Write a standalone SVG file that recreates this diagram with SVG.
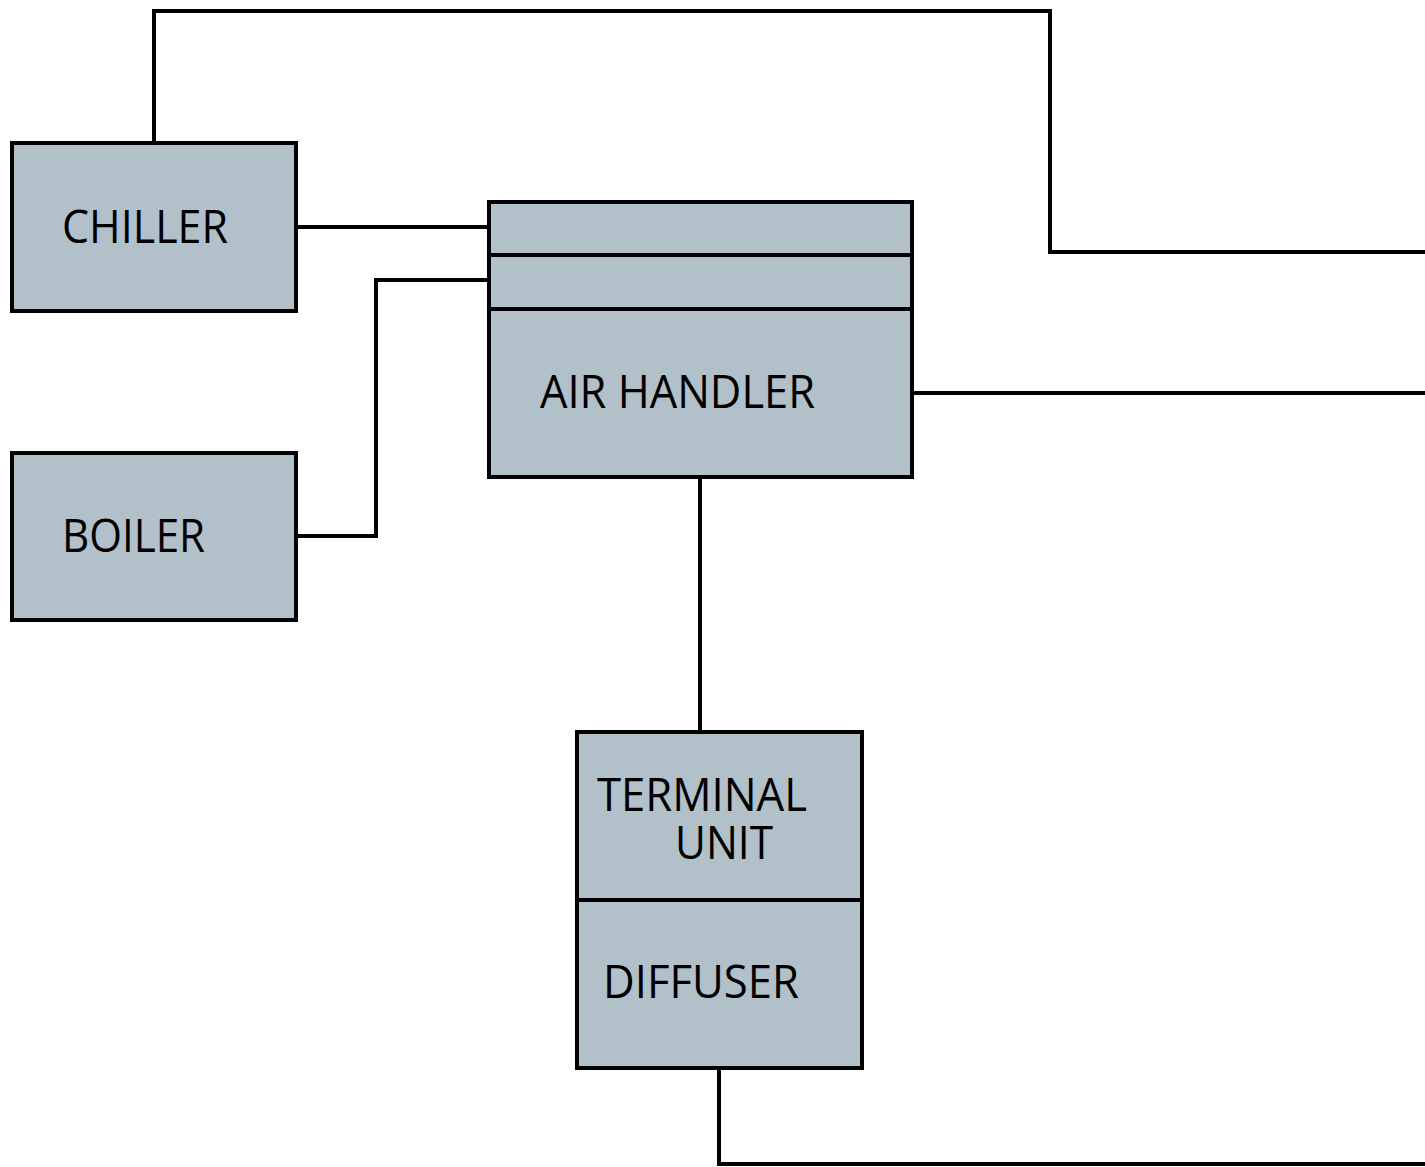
<svg xmlns="http://www.w3.org/2000/svg" width="1425" height="1167" viewBox="0 0 1425 1167">
<style>
.box{fill:#b2c0ca;stroke:#000;stroke-width:4;stroke-linejoin:miter}
.div{stroke:#000;stroke-width:4;fill:none}
.lbl{font-family:"Open Sans","Noto Sans","Liberation Sans",sans-serif;font-size:46px;fill:#000}
.wire{stroke:#000;stroke-width:4;fill:none;stroke-linejoin:miter}
</style>
<rect width="1425" height="1167" fill="#fff"/>
<g id="connectors">
<polyline class="wire" points="154,143 154,11 1050,11 1050,252 1425,252"/>
<line class="wire" x1="296" y1="227" x2="488" y2="227"/>
<polyline class="wire" points="296,536 376,536 376,280 488,280"/>
<line class="wire" x1="912" y1="393" x2="1425" y2="393"/>
<line class="wire" x1="700" y1="478" x2="700" y2="732"/>
<polyline class="wire" points="719,1068 719,1164 1425,1164"/>
</g>
<g id="chiller">
<rect class="box" x="12" y="143" width="284" height="168"/>
<text class="lbl" x="62" y="243" textLength="166" lengthAdjust="spacingAndGlyphs">CHILLER</text>
</g>
<g id="boiler">
<rect class="box" x="12" y="453" width="284" height="167"/>
<text class="lbl" x="62" y="552" textLength="143" lengthAdjust="spacingAndGlyphs">BOILER</text>
</g>
<g id="air-handler">
<rect class="box" x="489" y="202" width="423" height="275"/>
<line class="div" x1="489" y1="255" x2="912" y2="255"/>
<line class="div" x1="489" y1="309" x2="912" y2="309"/>
<text class="lbl" x="540" y="408" textLength="275" lengthAdjust="spacingAndGlyphs">AIR HANDLER</text>
</g>
<g id="terminal-unit">
<rect class="box" x="577" y="732" width="285" height="336"/>
<line class="div" x1="577" y1="900" x2="862" y2="900"/>
<text class="lbl" x="597" y="811" textLength="210" lengthAdjust="spacingAndGlyphs">TERMINAL</text>
<text class="lbl" x="675" y="859" textLength="98" lengthAdjust="spacingAndGlyphs">UNIT</text>
<text class="lbl" x="603" y="998" textLength="196" lengthAdjust="spacingAndGlyphs">DIFFUSER</text>
</g>
</svg>
